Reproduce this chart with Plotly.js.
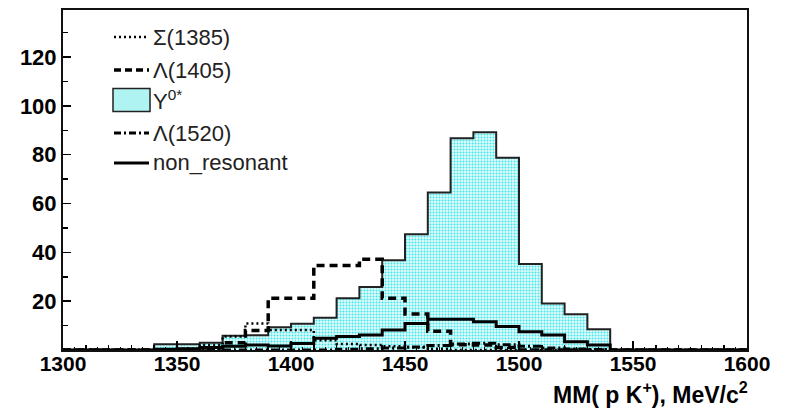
<!DOCTYPE html>
<html>
<head>
<meta charset="utf-8">
<script src="https://cdn.plot.ly/plotly-3.0.1.min.js"></script>
<style>
  html, body { margin: 0; padding: 0; background: #fff; }
  #plot { width: 786px; height: 408px; }
</style>
</head>
<body>
<div id="plot"></div>
<script>
// Bin lower edges (MeV/c^2), 10 MeV bins from 1300 to 1600
const binEdges = [1300, 1310, 1320, 1330, 1340, 1350, 1360, 1370, 1380, 1390,
                  1400, 1410, 1420, 1430, 1440, 1450, 1460, 1470, 1480, 1490,
                  1500, 1510, 1520, 1530, 1540, 1550, 1560, 1570, 1580, 1590, 1600];

// Counts per bin for each contribution
const y0Star = [0, 0, 0, 0, 2.4, 2.4, 3.0, 5.8, 6.0, 9.3,
                10.8, 13.2, 21.2, 25.8, 36.8, 47.4, 64.5, 86.8, 89.2, 78.8,
                35.2, 19.1, 14.6, 8.5, 0, 0, 0, 0, 0, 0];
const sigma1385 = [0, 0, 0, 0, 0, 0.5, 2.0, 5.5, 10.9, 8.2,
                   8.2, 4.0, 2.5, 2.0, 1.5, 1.0, 0.5, 0, 0, 0,
                   0, 0, 0, 0, 0, 0, 0, 0, 0, 0];
const lambda1405 = [0, 0, 0, 0, 0, 0, 0.8, 3.0, 8.0, 21.2,
                    21.2, 34.6, 34.6, 37.2, 21.2, 14.8, 7.7, 2.2, 2.0, 1.0,
                    0, 0, 0, 0, 0, 0, 0, 0, 0, 0];
const lambda1520 = [0, 0, 0, 0, 0, 0, 0, 0, 0, 0,
                    0, 0, 0.3, 0.5, 0.8, 1.2, 1.8, 2.5, 2.8, 2.2,
                    1.5, 0.8, 0.4, 0.2, 0, 0, 0, 0, 0, 0];
const nonResonant = [0, 0, 0, 0, 0.3, 0.5, 1.0, 1.5, 2.0, 1.6,
                     2.7, 4.8, 5.5, 6.1, 8.2, 10.9, 12.6, 12.6, 11.6, 9.6,
                     7.5, 6.1, 3.4, 2.0, 0, 0, 0, 0, 0, 0];

const xTicks = [1300, 1350, 1400, 1450, 1500, 1550, 1600];
const yTicks = [20, 40, 60, 80, 100, 120];

const legendLabels = ['\u03A3(1385)', '\u039B(1405)', 'Y<sup>0*</sup>', '\u039B(1520)', 'non_resonant'];

// Step outline: repeat the last bin value so the final bin gets its top edge
function stepY(vals) { return vals.concat([vals[vals.length - 1]]); }

const FONT = 'Liberation Sans, Arial, Helvetica, sans-serif';

function lineTrace(vals, dash, width) {
  return {
    x: binEdges, y: stepY(vals), type: 'scatter', mode: 'lines',
    line: { shape: 'hv', color: '#000', width: width, dash: dash },
    hoverinfo: 'skip', showlegend: false
  };
}

const traces = [
  {
    x: binEdges, y: stepY(y0Star), type: 'scatter', mode: 'lines',
    line: { shape: 'hv', color: '#222', width: 2 },
    fill: 'tozeroy',
    fillcolor: '#b4f4f4',
    fillpattern: { shape: '.', size: 3, solidity: 0.35, fgcolor: '#3fe6ec', bgcolor: '#e2fbfb' },
    hoverinfo: 'skip', showlegend: false
  },
  lineTrace(sigma1385, '2px,3px', 2.5),
  lineTrace(lambda1405, '8px,5px', 3.5),
  lineTrace(lambda1520, '8px,3px,2px,3px', 3),
  lineTrace(nonResonant, 'solid', 3),
  // finer 5 MeV tick marks on an overlaid axis
  { x: [1300, 1600], y: [0, 0], xaxis: 'x2', type: 'scatter', mode: 'lines',
    line: { width: 0 }, hoverinfo: 'skip', showlegend: false }
];

// Plot area in pixels, used to place the hand-drawn legend
const W = 786, H = 408;
const M = { l: 63, r: 39, t: 10, b: 58 };
const PW = W - M.l - M.r, PH = H - M.t - M.b;
const px = v => (v - M.l) / PW;
const py = v => (M.t + PH - v) / PH;

const legendRows = [37, 70, 100, 133, 163];
const legendStyles = [
  { dash: '2px,3px', width: 2.5 },
  { dash: '7px,4px', width: 3.5 },
  null,
  { dash: '7px,3px,2px,3px', width: 3 },
  { dash: 'solid', width: 3 }
];

const shapes = [];
const annotations = [];
legendRows.forEach((yy, i) => {
  const st = legendStyles[i];
  if (st) {
    shapes.push({ type: 'line', xref: 'paper', yref: 'paper',
      x0: px(114), x1: px(149), y0: py(yy), y1: py(yy),
      line: { color: '#000', width: st.width, dash: st.dash } });
  } else {
    shapes.push({ type: 'rect', xref: 'paper', yref: 'paper',
      x0: px(113), x1: px(150), y0: py(yy - 11.5), y1: py(yy + 11.5),
      fillcolor: '#b0f3f3', line: { color: '#222', width: 1.5 } });
  }
  annotations.push({ xref: 'paper', yref: 'paper', x: px(151), y: py(yy),
    xanchor: 'left', yanchor: 'middle', showarrow: false, text: legendLabels[i],
    font: { family: FONT, size: 22, color: '#222' } });
});

// axis title, right-aligned at the end of the axis
annotations.push({ xref: 'paper', yref: 'paper', x: px(750), y: py(393),
  xanchor: 'right', yanchor: 'middle', showarrow: false,
  text: 'MM( p K<sup>+</sup>), MeV/c<sup>2</sup>',
  font: { family: FONT, size: 23, color: '#000', weight: 'bold' } });

const layout = {
  width: W, height: H,
  margin: M,
  paper_bgcolor: '#fff', plot_bgcolor: '#fff',
  showlegend: false,
  xaxis: {
    range: [1300, 1600], tickvals: xTicks, ticktext: xTicks.map(String),
    ticks: 'inside', ticklen: 9, tickwidth: 1.5, tickcolor: '#000',
    ticklabelstandoff: -6,
    minor: { dtick: 10, tick0: 1300, ticks: 'inside', ticklen: 5, tickwidth: 1.5, tickcolor: '#000', showgrid: false },
    showline: true, linecolor: '#111', linewidth: 2, mirror: true,
    showgrid: false, zeroline: false,
    tickfont: { family: FONT, size: 21, color: '#000', weight: 'bold' }
  },
  xaxis2: {
    overlaying: 'x', matches: 'x', side: 'bottom', anchor: 'y',
    range: [1300, 1600], dtick: 5, tick0: 1300,
    ticks: 'inside', ticklen: 3, tickwidth: 1, tickcolor: '#000',
    showticklabels: false, showgrid: false, zeroline: false, showline: false
  },
  yaxis: {
    range: [0, 139.3], tickvals: yTicks, ticktext: yTicks.map(String),
    ticks: 'inside', ticklen: 8, tickwidth: 1.5, tickcolor: '#000',
    minor: { dtick: 10, tick0: 0, ticks: 'inside', ticklen: 5, tickwidth: 1.5, tickcolor: '#000', showgrid: false },
    showline: true, linecolor: '#111', linewidth: 2, mirror: true,
    showgrid: false, zeroline: false,
    tickfont: { family: FONT, size: 22, color: '#000', weight: 'bold' }
  },
  shapes: shapes,
  annotations: annotations
};

Plotly.newPlot('plot', traces, layout, { staticPlot: true, displayModeBar: false });
</script>
</body>
</html>
